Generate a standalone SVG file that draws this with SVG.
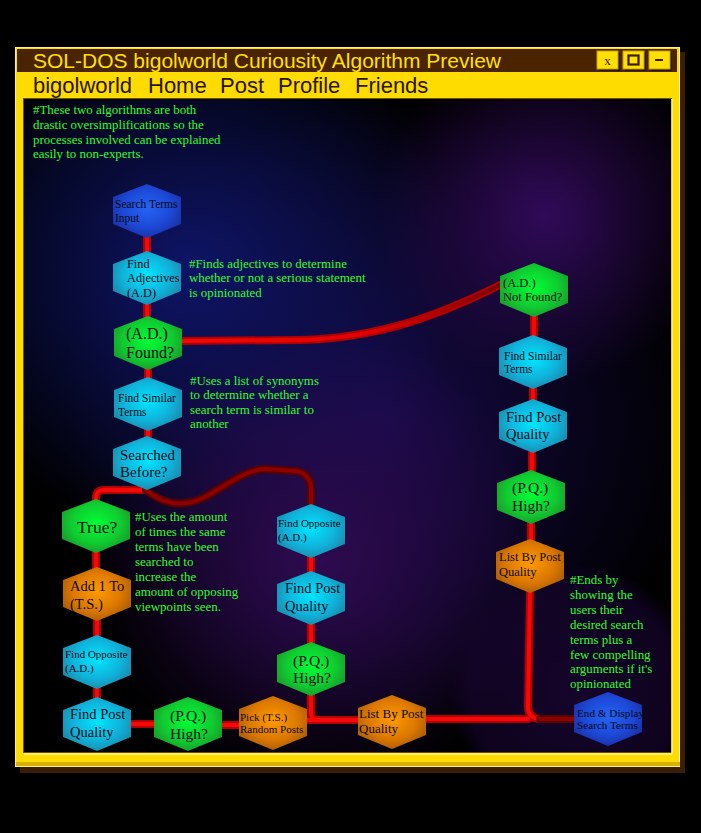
<svg xmlns="http://www.w3.org/2000/svg" xmlns:xlink="http://www.w3.org/1999/xlink" width="701" height="833" viewBox="0 0 701 833">
  <defs>
    <style>
      .title { font-family: "Liberation Sans", Arial, sans-serif; font-size: 21px; fill: #ffe000; }
      .menu { font-family: "Liberation Sans", Arial, sans-serif; font-size: 22px; fill: #2a1400; }
      .note { font-family: "Liberation Serif", "Times New Roman", serif; font-size: 12.9px; fill: #2bff2b; }
      .lbl { font-family: "Liberation Serif", "Times New Roman", serif; fill: #0a0a14; }
      .cyan { fill: url(#gCyan); }
      .green { fill: url(#gGreen); }
      .orange { fill: url(#gOrange); }
      .blue { fill: url(#gBlue); }
      .tube { fill: none; stroke: #b40000; stroke-width: 8; stroke-linecap: round; stroke-linejoin: round; }
      .core { fill: none; stroke: #f40808; stroke-width: 4; stroke-linecap: round; stroke-linejoin: round; }
      .dtube { fill: none; stroke: #5a0000; stroke-width: 8; stroke-linecap: round; stroke-linejoin: round; }
      .dcore { fill: none; stroke: #8c0000; stroke-width: 4; stroke-linecap: round; stroke-linejoin: round; }
      .btn { fill: #ffe000; stroke: #c8a000; stroke-width: 1; }
    </style>
    <radialGradient id="gCyan" cx="50%" cy="45%" r="60%">
      <stop offset="0" stop-color="#00e6ff"/>
      <stop offset="0.6" stop-color="#10b2da"/>
      <stop offset="1" stop-color="#1a86a6"/>
    </radialGradient>
    <radialGradient id="gGreen" cx="50%" cy="45%" r="60%">
      <stop offset="0" stop-color="#00ff34"/>
      <stop offset="0.6" stop-color="#10cc30"/>
      <stop offset="1" stop-color="#1a962a"/>
    </radialGradient>
    <radialGradient id="gOrange" cx="50%" cy="45%" r="60%">
      <stop offset="0" stop-color="#ff9a00"/>
      <stop offset="0.6" stop-color="#dc7800"/>
      <stop offset="1" stop-color="#a65a08"/>
    </radialGradient>
    <radialGradient id="gBlue" cx="50%" cy="45%" r="60%">
      <stop offset="0" stop-color="#2664f4"/>
      <stop offset="0.6" stop-color="#1c48d6"/>
      <stop offset="1" stop-color="#1a2ea0"/>
    </radialGradient>
    <radialGradient id="glowNavy" gradientUnits="userSpaceOnUse" cx="190" cy="270" r="270">
      <stop offset="0" stop-color="#0e1466" stop-opacity="1"/>
      <stop offset="1" stop-color="#0e1466" stop-opacity="0"/>
    </radialGradient>
    <radialGradient id="glowMid" gradientUnits="userSpaceOnUse" cx="380" cy="420" r="320">
      <stop offset="0" stop-color="#160a48" stop-opacity="1"/>
      <stop offset="1" stop-color="#160a48" stop-opacity="0"/>
    </radialGradient>
    <radialGradient id="glowPurpleA" gradientUnits="userSpaceOnUse" cx="545" cy="215" r="170">
      <stop offset="0" stop-color="#300a58" stop-opacity="1"/>
      <stop offset="1" stop-color="#300a58" stop-opacity="0"/>
    </radialGradient>
    <radialGradient id="glowPurpleB" gradientUnits="userSpaceOnUse" cx="320" cy="560" r="230">
      <stop offset="0" stop-color="#2e0a50" stop-opacity="1"/>
      <stop offset="1" stop-color="#2e0a50" stop-opacity="0"/>
    </radialGradient>
    <radialGradient id="glowCorner" gradientUnits="userSpaceOnUse" cx="575" cy="690" r="125">
      <stop offset="0" stop-color="#180530" stop-opacity="0.9"/>
      <stop offset="0.85" stop-color="#14042a" stop-opacity="0.7"/>
      <stop offset="1" stop-color="#14042a" stop-opacity="0"/>
    </radialGradient>
    <linearGradient id="fadeRight" gradientUnits="userSpaceOnUse" x1="181" y1="0" x2="502" y2="0">
      <stop offset="0" stop-color="#f40808"/>
      <stop offset="0.6" stop-color="#e00000"/>
      <stop offset="1" stop-color="#7a0000"/>
    </linearGradient>
    <clipPath id="panelClip">
      <rect x="24" y="99" width="647" height="653"/>
    </clipPath>
    <polygon id="hex" points="0,-27 34,-14 34,13 0,27 -34,13 -34,-14"/>
  </defs>

  <!-- page -->
  <rect x="0" y="0" width="701" height="833" fill="#000"/>

  <!-- window frame -->
  <rect x="20" y="52" width="665" height="721" fill="#3a1e06"/>
  <rect x="15" y="47" width="665" height="720" fill="#ffdc00"/>
  <rect x="15.5" y="47.5" width="664" height="719" fill="none" stroke="#fff27a" stroke-width="1"/>
  <rect x="16" y="762" width="664" height="4" fill="#d8b000"/>
  <rect x="17" y="49" width="660" height="23" fill="#4a2300"/>
  <text class="title" x="33" y="68">SOL-DOS bigolworld Curiousity Algorithm Preview</text>

  <!-- title buttons -->
  <rect x="599" y="53" width="21" height="18" fill="#2a1400"/>
  <rect class="btn" x="597" y="51" width="21" height="18"/>
  <text x="607.5" y="65" text-anchor="middle" font-family="Liberation Serif, serif" font-size="13" fill="#2a1400">x</text>
  <rect x="625" y="53" width="21" height="18" fill="#2a1400"/>
  <rect class="btn" x="623" y="51" width="21" height="18"/>
  <rect x="628.5" y="55.5" width="10" height="9" fill="none" stroke="#3a1e00" stroke-width="2.2"/>
  <rect x="651" y="53" width="21" height="18" fill="#2a1400"/>
  <rect class="btn" x="649" y="51" width="21" height="18"/>
  <rect x="655" y="59" width="8" height="2" fill="#3a1e00"/>

  <!-- menu bar -->
  <text class="menu" x="33" y="93">bigolworld</text>
  <text class="menu" x="148" y="93">Home</text>
  <text class="menu" x="220" y="93">Post</text>
  <text class="menu" x="278" y="93">Profile</text>
  <text class="menu" x="355" y="93">Friends</text>

  <!-- content panel -->
  <rect x="23" y="98" width="649" height="655" fill="#6a5400"/>
  <line x1="672" y1="99" x2="672" y2="754" stroke="#fff3a0" stroke-width="1.5"/>
  <line x1="24" y1="754" x2="672" y2="754" stroke="#fff3a0" stroke-width="1.5"/>
  <g clip-path="url(#panelClip)">
    <rect x="24" y="99" width="647" height="653" fill="#000"/>
    <rect x="24" y="99" width="647" height="653" fill="url(#glowMid)"/>
    <rect x="24" y="99" width="647" height="653" fill="url(#glowNavy)"/>
    <rect x="24" y="99" width="647" height="653" fill="url(#glowPurpleA)"/>
    <rect x="24" y="99" width="647" height="653" fill="url(#glowPurpleB)"/>
    <rect x="24" y="99" width="647" height="653" fill="url(#glowCorner)"/>
  </g>

  <!-- notes -->
  <text class="note" x="33" y="114">#These two algorithms are both</text>
  <text class="note" x="33" y="129">drastic oversimplifications so the</text>
  <text class="note" x="33" y="144">processes involved can be explained</text>
  <text class="note" x="33" y="158">easily to non-experts.</text>

  <text class="note" x="189" y="268">#Finds adjectives to determine</text>
  <text class="note" x="189" y="282">whether or not a serious statement</text>
  <text class="note" x="189" y="297">is opinionated</text>

  <text class="note" x="190" y="385">#Uses a list of synonyms</text>
  <text class="note" x="190" y="399">to determine whether a</text>
  <text class="note" x="190" y="414">search term is similar to</text>
  <text class="note" x="190" y="428">another</text>

  <text class="note" x="135" y="521">#Uses the amount</text>
  <text class="note" x="135" y="536">of times the same</text>
  <text class="note" x="135" y="551">terms have been</text>
  <text class="note" x="135" y="566">searched to</text>
  <text class="note" x="135" y="581">increase the</text>
  <text class="note" x="135" y="596">amount of opposing</text>
  <text class="note" x="135" y="611">viewpoints seen.</text>

  <text class="note" x="570" y="584">#Ends by</text>
  <text class="note" x="570" y="599">showing the</text>
  <text class="note" x="570" y="614">users their</text>
  <text class="note" x="570" y="629">desired search</text>
  <text class="note" x="570" y="644">terms plus a</text>
  <text class="note" x="570" y="659">few compelling</text>
  <text class="note" x="570" y="673">arguments if it's</text>
  <text class="note" x="570" y="688">opinionated</text>

  <!-- connectors -->
  <g id="connectors">
    <path class="tube" d="M147 236 V252 M147 303 V318 M148 368 V379 M148 429 V438"/>
    <path class="core" d="M147 236 V252 M147 303 V318 M148 368 V379 M148 429 V438"/>
    <!-- found? to not found? -->
    <path d="M181 341 L300 340 C380 338 440 315 502 284" fill="none" stroke="#b00000" stroke-width="8" stroke-linecap="round"/>
    <path d="M181 341 L300 340 C380 338 440 315 502 284" fill="none" stroke="url(#fadeRight)" stroke-width="4" stroke-linecap="round"/>
    <!-- searched before? to true? -->
    <path class="tube" d="M96 506 V498 Q96 490 104 490 H146"/>
    <path class="core" d="M96 506 V498 Q96 490 104 490 H146"/>
    <!-- searched before? to find opposite (middle) -->
    <path class="dtube" d="M146 490 C165 506 185 507 205 497 C230 483 245 470 265 469 L295 471 Q311 473 311 490 V506"/>
    <path class="dcore" d="M146 490 C165 506 185 507 205 497 C230 483 245 470 265 469 L295 471 Q311 473 311 490 V506"/>
    <!-- left column -->
    <path class="tube" d="M96 552 V570 M97 619 V638 M97 687 V699 M130 724 H156 M221 725 H240"/>
    <path class="core" d="M96 552 V570 M97 619 V638 M97 687 V699 M130 724 H156 M221 725 H240"/>
    <!-- middle column -->
    <path class="tube" d="M311 556 V572 M311 623 V643 M311 694 V712 Q311 720 318 720 M306 720 H360"/>
    <path class="core" d="M311 556 V572 M311 623 V643 M311 694 V712 Q311 720 318 720 M306 720 H360"/>
    <!-- right column -->
    <path class="tube" d="M534 316 V337 M533 387 V401 M532 452 V473 M531 522 V541 M530 591 L528 706 Q528 719 541 719 M424 719 H528"/>
    <path class="core" d="M534 316 V337 M533 387 V401 M532 452 V473 M531 522 V541 M530 591 L528 706 Q528 719 541 719 M424 719 H528"/>
    <path class="dtube" d="M540 719 H576"/>
    <path class="dcore" d="M540 719 H576"/>
  </g>

  <!-- nodes -->
  <g id="search-terms-input">
    <use xlink:href="#hex" x="147" y="211" class="blue"/>
    <text class="lbl" font-size="11.5"><tspan x="115" y="208">Search Terms</tspan><tspan x="115" y="222">Input</tspan></text>
  </g>
  <g id="find-adjectives">
    <use xlink:href="#hex" x="147" y="278" class="cyan"/>
    <text class="lbl" font-size="12.3"><tspan x="127" y="268">Find</tspan><tspan x="127" y="282">Adjectives</tspan><tspan x="127" y="297">(A.D)</tspan></text>
  </g>
  <g id="ad-found">
    <use xlink:href="#hex" x="148" y="343" class="green"/>
    <text class="lbl" font-size="16"><tspan x="126" y="339">(A.D.)</tspan><tspan x="126" y="358">Found?</tspan></text>
  </g>
  <g id="find-similar-left">
    <use xlink:href="#hex" x="148" y="404" class="cyan"/>
    <text class="lbl" font-size="11.5"><tspan x="118" y="402">Find Similar</tspan><tspan x="118" y="416">Terms</tspan></text>
  </g>
  <g id="searched-before">
    <use xlink:href="#hex" x="147" y="463" class="cyan"/>
    <text class="lbl" font-size="15"><tspan x="120" y="460">Searched</tspan><tspan x="120" y="477">Before?</tspan></text>
  </g>
  <g id="true">
    <use xlink:href="#hex" x="96" y="526" class="green"/>
    <text class="lbl" font-size="17.5" x="77" y="533">True?</text>
  </g>
  <g id="add-one-ts">
    <use xlink:href="#hex" x="97" y="594" class="orange"/>
    <text class="lbl" font-size="14.5"><tspan x="70" y="591">Add 1 To</tspan><tspan x="70" y="609">(T.S.)</tspan></text>
  </g>
  <g id="find-opposite-left">
    <use xlink:href="#hex" x="97" y="662" class="cyan"/>
    <text class="lbl" font-size="11"><tspan x="65" y="658">Find Opposite</tspan><tspan x="65" y="672">(A.D.)</tspan></text>
  </g>
  <g id="find-post-quality-left">
    <use xlink:href="#hex" x="97" y="724" class="cyan"/>
    <text class="lbl" font-size="14.5"><tspan x="70" y="719">Find Post</tspan><tspan x="70" y="737">Quality</tspan></text>
  </g>
  <g id="pq-high-bottom">
    <use xlink:href="#hex" x="188" y="724" class="green"/>
    <text class="lbl" font-size="15.5"><tspan x="170" y="721">(P.Q.)</tspan><tspan x="170" y="739">High?</tspan></text>
  </g>
  <g id="pick-random-posts">
    <use xlink:href="#hex" x="273" y="723" class="orange"/>
    <text class="lbl" font-size="11"><tspan x="240" y="721">Pick (T.S.)</tspan><tspan x="240" y="733">Random Posts</tspan></text>
  </g>
  <g id="list-by-quality-bottom">
    <use xlink:href="#hex" x="392" y="722" class="orange"/>
    <text class="lbl" font-size="13"><tspan x="359" y="718">List By Post</tspan><tspan x="359" y="733">Quality</tspan></text>
  </g>
  <g id="end-display">
    <use xlink:href="#hex" x="608" y="719" class="blue"/>
    <text class="lbl" font-size="11.2"><tspan x="577" y="717">End &amp; Display</tspan><tspan x="577" y="729">Search Terms</tspan></text>
  </g>
  <g id="find-opposite-middle">
    <use xlink:href="#hex" x="311" y="531" class="cyan"/>
    <text class="lbl" font-size="11"><tspan x="278" y="527">Find Opposite</tspan><tspan x="278" y="541">(A.D.)</tspan></text>
  </g>
  <g id="find-post-quality-middle">
    <use xlink:href="#hex" x="311" y="598" class="cyan"/>
    <text class="lbl" font-size="14.5"><tspan x="285" y="593">Find Post</tspan><tspan x="285" y="611">Quality</tspan></text>
  </g>
  <g id="pq-high-middle">
    <use xlink:href="#hex" x="311" y="669" class="green"/>
    <text class="lbl" font-size="15.5"><tspan x="293" y="666">(P.Q.)</tspan><tspan x="293" y="683">High?</tspan></text>
  </g>
  <g id="ad-not-found">
    <use xlink:href="#hex" x="534" y="290" class="green"/>
    <text class="lbl" font-size="12.5"><tspan x="503" y="287">(A.D.)</tspan><tspan x="503" y="301">Not Found?</tspan></text>
  </g>
  <g id="find-similar-right">
    <use xlink:href="#hex" x="533" y="362" class="cyan"/>
    <text class="lbl" font-size="11.5"><tspan x="504" y="360">Find Similar</tspan><tspan x="504" y="373">Terms</tspan></text>
  </g>
  <g id="find-post-quality-right">
    <use xlink:href="#hex" x="533" y="426" class="cyan"/>
    <text class="lbl" font-size="14.5"><tspan x="506" y="422">Find Post</tspan><tspan x="506" y="439">Quality</tspan></text>
  </g>
  <g id="pq-high-right">
    <use xlink:href="#hex" x="531" y="497" class="green"/>
    <text class="lbl" font-size="15.5"><tspan x="512" y="493">(P.Q.)</tspan><tspan x="512" y="511">High?</tspan></text>
  </g>
  <g id="list-by-quality-right">
    <use xlink:href="#hex" x="530" y="566" class="orange"/>
    <text class="lbl" font-size="12.5"><tspan x="499" y="561">List By Post</tspan><tspan x="499" y="576">Quality</tspan></text>
  </g>
</svg>
